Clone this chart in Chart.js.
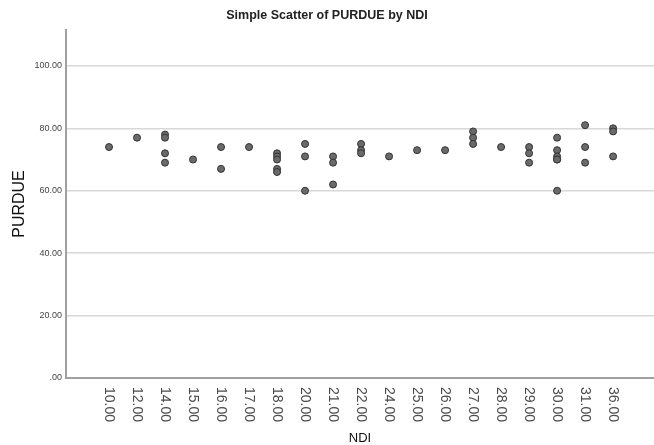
<!DOCTYPE html>
<html>
<head>
<meta charset="utf-8">
<script src="https://cdn.jsdelivr.net/npm/chart.js@4"></script>
<style>
  body { margin: 0; background: #fff; }
</style>
</head>
<body>
<canvas id="grafica" width="654" height="445"></canvas>
<script>
// Categories de NDI (eix X)
const ndiCategories = ['10.00', '12.00', '14.00', '15.00', '16.00', '17.00', '18.00', '20.00', '21.00', '22.00',
                       '24.00', '25.00', '26.00', '27.00', '28.00', '29.00', '30.00', '31.00', '36.00'];

// Parells de punts: NDI i PURDUE
const ndi = ['10.00', '12.00', '14.00', '14.00', '14.00', '14.00', '15.00', '16.00', '16.00', '17.00',
             '18.00', '18.00', '18.00', '18.00', '18.00', '20.00', '20.00', '20.00', '21.00', '21.00', '21.00',
             '22.00', '22.00', '22.00', '24.00', '25.00', '26.00', '27.00', '27.00', '27.00', '28.00',
             '29.00', '29.00', '29.00', '30.00', '30.00', '30.00', '30.00', '30.00', '30.00',
             '31.00', '31.00', '31.00', '36.00', '36.00', '36.00'];
const purdue = [74, 77, 78, 77, 72, 69, 70, 74, 67, 74,
                72, 71, 70, 67, 66, 75, 71, 60, 71, 69, 62,
                75, 73, 72, 71, 73, 73, 79, 77, 75, 74,
                74, 72, 69, 77, 73, 71, 70, 70, 60,
                81, 74, 69, 80, 79, 71];

// Marques de l'eix Y
const yTicks = [0, 20, 40, 60, 80, 100];

const punts = ndi.map((n, i) => ({ x: ndiCategories.indexOf(n), y: purdue[i] }));

const FONT = 'Arial, "Liberation Sans", sans-serif';

// Etiquetes de l'eix X girades i títols dels eixos
const etiquetes = {
    id: 'etiquetes',
    afterDraw(chart) {
        const ctx = chart.ctx;
        const xs = chart.scales.x;
        const area = chart.chartArea;
        ctx.save();
        ctx.fillStyle = '#4a4a4a';
        ctx.font = '14px ' + FONT;
        ctx.textAlign = 'left';
        ctx.textBaseline = 'middle';
        ndiCategories.forEach((lab, i) => {
            const x = xs.getPixelForValue(i);
            ctx.save();
            ctx.translate(x, area.bottom + 9);
            ctx.rotate(Math.PI / 2);
            ctx.fillText(lab, 0, 0);
            ctx.restore();
        });
        ctx.fillStyle = '#111';
        ctx.font = '13px ' + FONT;
        ctx.textAlign = 'center';
        ctx.fillText('NDI', (area.left + area.right) / 2, 438);
        ctx.font = '16px ' + FONT;
        ctx.translate(20, (area.top + area.bottom) / 2);
        ctx.rotate(-Math.PI / 2);
        ctx.fillText('PURDUE', 0, 0);
        ctx.restore();
    }
};

new Chart(document.getElementById('grafica').getContext('2d'), {
    type: 'scatter',
    data: {
        datasets: [{
            data: punts,
            backgroundColor: '#6a6a6a',
            borderColor: '#333',
            borderWidth: 1,
            pointRadius: 3.5,
            pointHoverRadius: 3.5
        }]
    },
    options: {
        responsive: false,
        animation: false,
        layout: { padding: 0, autoPadding: false },
        plugins: {
            legend: { display: false },
            tooltip: { enabled: false },
            title: {
                display: true,
                text: 'Simple Scatter of PURDUE by NDI',
                color: '#222',
                font: { family: FONT, size: 12.5, weight: 'bold' },
                padding: { top: 8, bottom: 7 }
            }
        },
        scales: {
            x: {
                type: 'linear',
                min: -1.536,
                max: 19.46,
                afterBuildTicks: axis => { axis.ticks = ndiCategories.map((_, i) => ({ value: i })); },
                afterFit: scale => { scale.height = 67; },
                ticks: { display: false },
                grid: { display: false, drawTicks: false },
                border: { color: '#a0a0a0', width: 2 }
            },
            y: {
                min: 0,
                max: 111.5,
                afterBuildTicks: axis => { axis.ticks = yTicks.map(v => ({ value: v })); },
                afterFit: scale => { scale.width = 66; },
                ticks: {
                    color: '#444',
                    font: { family: FONT, size: 9 },
                    padding: 4,
                    callback: v => v === 0 ? '.00' : v.toFixed(2)
                },
                grid: { color: '#d8d8d8', lineWidth: 1.5, drawTicks: false },
                border: { color: '#a0a0a0', width: 2 }
            }
        }
    },
    plugins: [etiquetes]
});
</script>
</body>
</html>
